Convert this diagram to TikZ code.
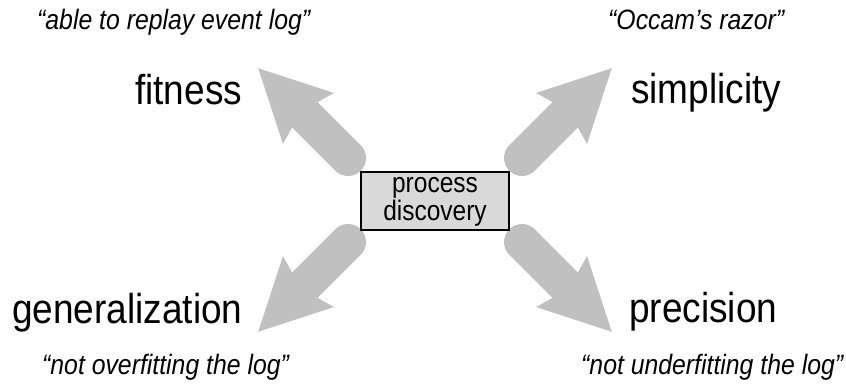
\documentclass[tikz,border=0pt]{standalone}
\usepackage{fontspec}
\setmainfont{Liberation Sans}
\definecolor{arrowgray}{RGB}{192,192,192}
\definecolor{boxgray}{RGB}{217,217,217}
\newcommand{\vstretch}[1]{\scalebox{1}[1.13]{#1}}
\tikzset{
  fatarrow/.style={fill=arrowgray, draw=none},
  bigtext/.style={font=\fontsize{37}{43}\selectfont, inner sep=0pt, anchor=base west},
  quotetext/.style={font=\fontsize{24.8}{30}\selectfont\itshape, inner sep=0pt, anchor=base west},
  pdbox/.style={draw=black, line width=2.5pt, fill=boxgray, minimum width=148pt, minimum height=58pt, inner sep=0pt, align=center, font=\fontsize{24.5}{24}\selectfont}
}
\newcommand{\fatarrowshape}{%
  (0,18) -- (61,18) -- (56,36) -- (127,0) -- (56,-36) -- (61,-18) -- (0,-18)
  arc[start angle=-90, end angle=-270, radius=18] -- cycle}
\begin{document}
\begin{tikzpicture}[x=1pt,y=1pt]
\useasboundingbox (0,0) rectangle (846,385);
% arrow anchor coordinates
\coordinate (tUL) at (348,227); \coordinate (tUR) at (522,227);
\coordinate (tLL) at (348,143); \coordinate (tLR) at (522,143);
% arrows
\begin{scope}[shift={(tUL)}, rotate=135] \fill[fatarrow] \fatarrowshape; \end{scope}
\begin{scope}[shift={(tUR)}, rotate=45] \fill[fatarrow] \fatarrowshape; \end{scope}
\begin{scope}[shift={(tLL)}, rotate=225] \fill[fatarrow] \fatarrowshape; \end{scope}
\begin{scope}[shift={(tLR)}, rotate=-45] \fill[fatarrow] \fatarrowshape; \end{scope}
% central box
\node[pdbox] (pd) at (435,184) {\raisebox{-2pt}{\scalebox{1}[1.15]{\begin{tabular}{@{}c@{}}process\\[-0.5pt]discovery\end{tabular}}}};
% labels
\node[bigtext] (fit) at (135,280) {\vstretch{fitness}};
\node[bigtext] (sim) at (631,281) {\vstretch{simplicity}};
\node[bigtext] (gen) at (12,61) {\vstretch{generalization}};
\node[bigtext] (pre) at (629,62) {\vstretch{precision}};
% quotes
\node[quotetext] (qfit) at (37,355) {\vstretch{“able to replay event log”}};
\node[quotetext] (qsim) at (608,355) {\vstretch{“Occam’s razor”}};
\node[quotetext] (qgen) at (42,10) {\vstretch{“not overfitting the log”}};
\node[quotetext] (qpre) at (581,10) {\vstretch{“not underfitting the log”}};
\end{tikzpicture}
\end{document}
